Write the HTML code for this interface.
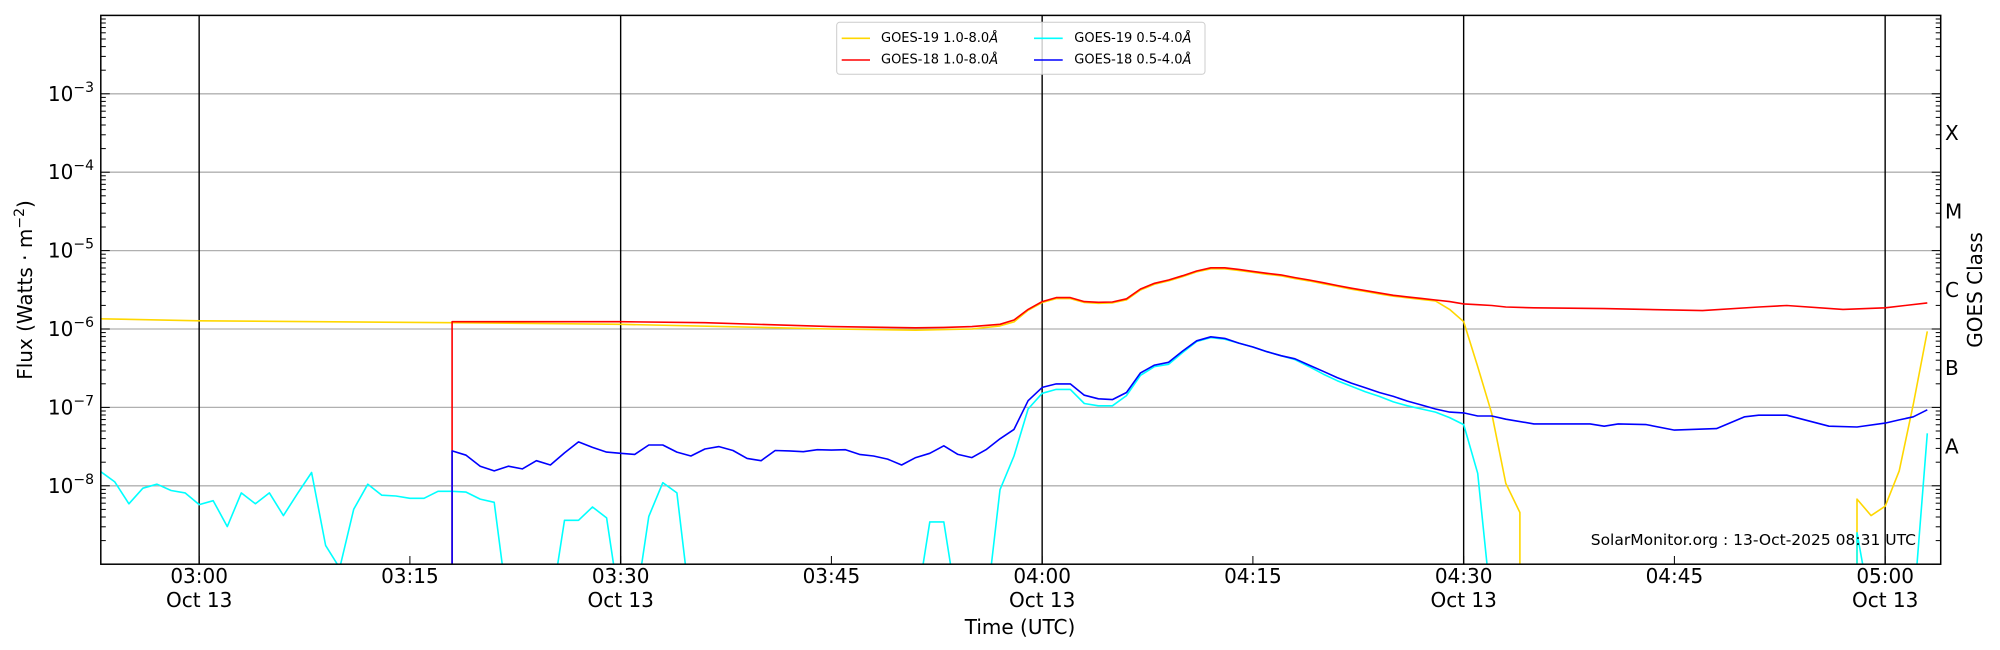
<!DOCTYPE html>
<html><head><meta charset="utf-8">
<style>
html,body{margin:0;padding:0;background:#fff;}
svg{display:block;font-family:"DejaVu Sans","Liberation Sans",sans-serif;}
</style></head>
<body>
<svg id="s" width="2000" height="650" viewBox="0 0 2000 650" xmlns="http://www.w3.org/2000/svg">
<defs><clipPath id="c"><rect x="100.8" y="15.4" width="1839.9" height="548.8"/></clipPath></defs>
<rect width="2000" height="650" fill="#fff"/>
<g id="grid"></g>
<g id="data" clip-path="url(#c)" fill="none" stroke-width="1.6" stroke-linejoin="round"></g>
<g id="ticks" stroke="#000" stroke-width="1"></g>
<rect x="100.8" y="15.4" width="1839.9" height="548.8" fill="none" stroke="#000" stroke-width="1.5"/>
<g id="labels" font-size="20" fill="#000"></g>
<rect x="836.7" y="22.3" width="368.3" height="52" rx="3" fill="#fff" fill-opacity="0.8" stroke="#ccc" stroke-width="1"/>
<g stroke-width="1.6">
<line x1="841.7" y1="38.3" x2="870" y2="38.3" stroke="#ffd700"/>
<line x1="841.7" y1="60" x2="870" y2="60" stroke="#ff0000"/>
<line x1="1034" y1="38.3" x2="1062.7" y2="38.3" stroke="#00ffff"/>
<line x1="1034" y1="60" x2="1062.7" y2="60" stroke="#0000ff"/>
</g>
<g font-size="13" fill="#000" dominant-baseline="central">
<text x="881" y="38.3">GOES-19 1.0-8.0<tspan font-style="italic">Å</tspan></text>
<text x="881" y="60">GOES-18 1.0-8.0<tspan font-style="italic">Å</tspan></text>
<text x="1074.3" y="38.3">GOES-19 0.5-4.0<tspan font-style="italic">Å</tspan></text>
<text x="1074.3" y="60">GOES-18 0.5-4.0<tspan font-style="italic">Å</tspan></text>
</g>
<text x="1916" y="545" font-size="15.5" text-anchor="end" fill="#000">SolarMonitor.org : 13-Oct-2025 08:31 UTC</text>
</svg>
<script>
var NS="http://www.w3.org/2000/svg";
var X0=100.8,DX=14.05,Y0=15.4,DY=78.4;
function X(m){return X0+m*DX;}
function Y(l){return Y0+(-2-l)*DY;}
function el(p,t,a,txt){var e=document.createElementNS(NS,t);for(var k in a)e.setAttribute(k,a[k]);if(txt!==undefined)e.textContent=txt;p.appendChild(e);return e;}
var g=document.getElementById('grid'),tk=document.getElementById('ticks'),lb=document.getElementById('labels'),dt=document.getElementById('data');
for(var d=-8;d<=-3;d++)el(g,'line',{x1:X0,x2:1940.7,y1:Y(d),y2:Y(d),stroke:'#b0b0b0','stroke-width':1.3});
for(var m=7;m<=127;m+=30)el(g,'line',{x1:X(m),x2:X(m),y1:Y0,y2:564.2,stroke:'#000','stroke-width':1.4});
for(var d=-9;d<-2;d++){for(var k=1;k<10;k++){var l=d+Math.log10(k);var y=Y(l);var len=k==1?9:5;
el(tk,'line',{x1:X0,x2:X0+len,y1:y,y2:y});el(tk,'line',{x1:1940.7,x2:1940.7-len,y1:y,y2:y});}}
for(var m=7;m<=127;m+=15)el(tk,'line',{x1:X(m),x2:X(m),y1:564.2,y2:556});
for(var d=-8;d<=-3;d++){var t=el(lb,'text',{x:94,y:Y(d)+7,'text-anchor':'end'});t.textContent='10';
el(t,'tspan',{dy:-9,'font-size':14},'\u2212'+(-d));}
var times=['03:00','03:15','03:30','03:45','04:00','04:15','04:30','04:45','05:00'];
for(var i=0;i<9;i++){var x=X(7+15*i);el(lb,'text',{x:x,y:583,'text-anchor':'middle'},times[i]);
if(i%2==0)el(lb,'text',{x:x,y:607,'text-anchor':'middle'},'Oct 13');}
el(lb,'text',{x:1020,y:634,'text-anchor':'middle'},'Time (UTC)');
var yl=el(lb,'text',{x:0,y:0,'text-anchor':'middle',transform:'translate(32,290) rotate(-90)'},'Flux (Watts \u00b7 m');
el(yl,'tspan',{dy:-8,'font-size':14},'\u22122');el(yl,'tspan',{dy:8},')');
el(lb,'text',{x:0,y:0,'text-anchor':'middle',transform:'translate(1982,290) rotate(-90)'},'GOES Class');
var cls=['X','M','C','B','A'];for(var i=0;i<5;i++)el(lb,'text',{x:1945,y:Y(-3.5-i)+7},cls[i]);
var B=-9.6;
var red=[[25,B],[25,-5.907],[37,-5.907],[43,-5.92],[52,-5.97],[58,-5.985],[60,-5.98],[62,-5.97],[64,-5.94],[65,-5.885],[66,-5.75],[67,-5.65],[68,-5.60],[69,-5.60],[70,-5.65],[71,-5.66],[72,-5.655],[73,-5.615],[74,-5.49],[75,-5.417],[76,-5.375],[77,-5.32],[78,-5.26],[79,-5.22],[80,-5.22],[81,-5.24],[82,-5.265],[83,-5.29],[84,-5.31],[85,-5.345],[86,-5.375],[87,-5.41],[88,-5.445],[89,-5.48],[90,-5.51],[91,-5.54],[92,-5.57],[93,-5.59],[94,-5.61],[95,-5.63],[96,-5.65],[97,-5.68],[98,-5.69],[99,-5.70],[100,-5.72],[102,-5.73],[107,-5.74],[114,-5.765],[118,-5.72],[120,-5.70],[124,-5.75],[127,-5.73],[130,-5.667]];
var yel=[[0,-5.87],[7,-5.895],[25,-5.92],[37,-5.94],[52,-6.0],[58,-6.015],[62,-6.0],[64,-5.96],[65,-5.91]];
for(var i=0;i<red.length;i++){var p=red[i];if(p[0]>=66&&p[0]<=95)yel.push([p[0],p[1]-0.012]);}
yel=yel.concat([[96,-5.75],[97,-5.907],[98,-6.48],[99,-7.08],[100,-7.97],[101,-8.34],[101,B]]);
var yel2=[[125,B],[125,-8.17],[126,-8.38],[127,-8.26],[128,-7.81],[129,-6.96],[130,-6.03]];
var cyan=[-7.82,-7.95,-8.23,-8.03,-7.98,-8.06,-8.09,-8.24,-8.19,-8.52,-8.09,-8.23,-8.09,-8.38,-8.10,-7.83,-8.76,-9.05,-8.30,-7.98,-8.12,-8.13,-8.16,-8.16,-8.07,-8.07,-8.08,-8.17,-8.21,B,B,B,B,-8.44,-8.44,-8.27,-8.41,B,B,-8.39,-7.96,-8.09,B];
var cy=[];for(var i=0;i<cyan.length;i++)cy.push([i,cyan[i]]);
cy=cy.concat([[58,B],[59,-8.46],[60,-8.46],[61,B],[63,B],[64,-8.05],[65,-7.62],[66,-7.02],[67,-6.82],[68,-6.77],[69,-6.77],[70,-6.95],[71,-6.98],[72,-6.98],[73,-6.85],[74,-6.59],[75,-6.48],[76,-6.45],[77,-6.30],[78,-6.16],[79,-6.11],[80,-6.13],[81,-6.18],[82,-6.23],[83,-6.29],[84,-6.34],[85,-6.39],[86,-6.48],[87,-6.575],[88,-6.66],[89,-6.73],[90,-6.80],[91,-6.86],[92,-6.93],[93,-6.98],[94,-7.02],[95,-7.06],[96,-7.13],[97,-7.22],[98,-7.84],[99,B],[125,B],[125,-8.6],[126,B],[129,B],[130,-7.33]]);
var blue=[[25,B],[25,-7.555],[26,-7.61],[27,-7.75],[28,-7.81],[29,-7.75],[30,-7.785],[31,-7.68],[32,-7.735],[33,-7.58],[34,-7.44],[35,-7.51],[36,-7.57],[37,-7.585],[38,-7.60],[39,-7.48],[40,-7.48],[41,-7.57],[42,-7.62],[43,-7.53],[44,-7.50],[45,-7.55],[46,-7.65],[47,-7.68],[48,-7.55],[49,-7.555],[50,-7.565],[51,-7.54],[52,-7.545],[53,-7.54],[54,-7.60],[55,-7.62],[56,-7.66],[57,-7.735],[58,-7.64],[59,-7.585],[60,-7.49],[61,-7.60],[62,-7.64],[63,-7.54],[64,-7.40],[65,-7.28],[66,-6.915],[67,-6.745],[68,-6.70],[69,-6.70],[70,-6.845],[71,-6.89],[72,-6.90],[73,-6.81],[74,-6.56],[75,-6.46],[76,-6.425],[77,-6.28],[78,-6.15],[79,-6.10],[80,-6.12],[81,-6.18],[82,-6.23],[83,-6.29],[84,-6.34],[85,-6.38],[86,-6.46],[87,-6.54],[88,-6.62],[89,-6.69],[90,-6.75],[91,-6.81],[92,-6.86],[93,-6.92],[94,-6.97],[95,-7.02],[96,-7.06],[97,-7.07],[98,-7.11],[99,-7.11],[100,-7.15],[102,-7.21],[106,-7.21],[107,-7.24],[108,-7.21],[110,-7.22],[112,-7.29],[115,-7.27],[117,-7.12],[118,-7.10],[120,-7.10],[123,-7.24],[125,-7.25],[127,-7.20],[128,-7.16],[129,-7.12],[130,-7.03]];
function line(pts,col){el(dt,'polyline',{points:pts.map(function(p){return X(p[0]).toFixed(1)+','+Y(p[1]).toFixed(1);}).join(' '),stroke:col});}
line(yel,'#ffd700');line(yel2,'#ffd700');line(red,'#ff0000');line(cy,'#00ffff');line(blue,'#0000ff');
</script>
</body></html>
